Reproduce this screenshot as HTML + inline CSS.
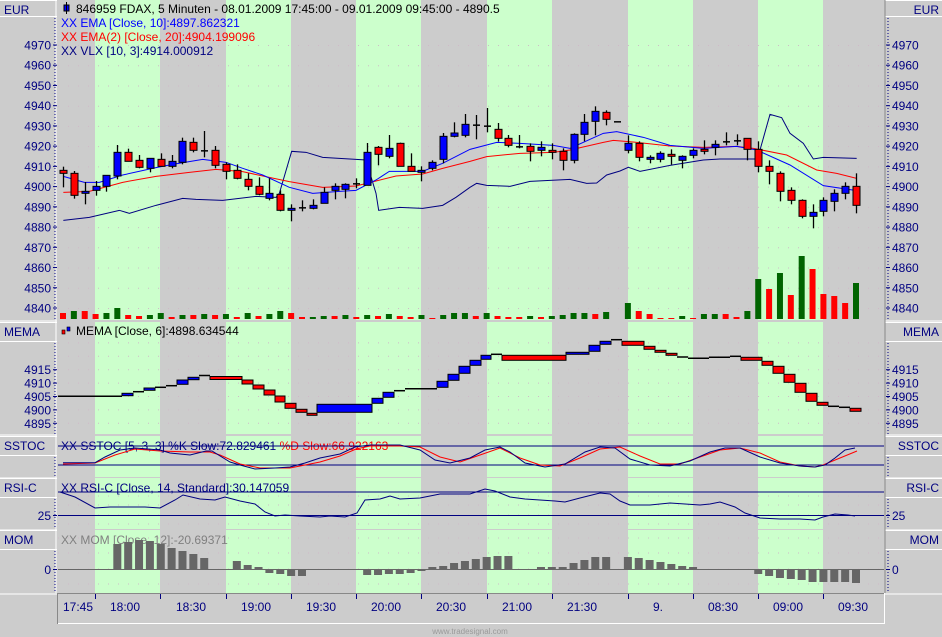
<!DOCTYPE html>
<html><head><meta charset="utf-8"><style>
html,body{margin:0;padding:0;background:#cccccc;}
svg{display:block;font-family:"Liberation Sans",sans-serif;}
</style></head><body>
<svg id="s" width="942" height="637" xmlns="http://www.w3.org/2000/svg"></svg>
<script>
const S=document.getElementById('s');let h='';
const N=74, X0=63, SP=(856-63)/73;
const bx=i=>X0+(i-1)*SP;
h+='<rect width="942" height="637" fill="#cccccc"/>';
const panes=[[0,320],[322,434],[436,477],[478,529],[530,593]];
const bands=[[95,160],[226,291],[356,421],[487,552],[628,693],[758,823]];
panes.forEach(p=>bands.forEach(b=>{h+=`<rect x="${b[0]}" y="${p[0]}" width="${b[1]-b[0]}" height="${p[1]-p[0]}" fill="#ccffcc"/>`;}));
function dots(y){h+=`<line x1="58" x2="884" y1="${y}" y2="${y}" stroke="#d0b8c8" stroke-dasharray="1,9"/>`;}
const my=v=>45+(4970-v)*2.023;
for(let v=4970;v>=4840;v-=10)dots(my(v)+0.5);
const ey=v=>369.7+(4915-v)*2.68;
[4925,4920,4915,4910,4905,4900,4895].forEach(v=>dots(ey(v)));
[446,465].forEach(dots);[496,505,515,524].forEach(dots);[538,553,569,584].forEach(dots);
h+=`<rect x="64" y="5" width="5" height="6" fill="#0000ff" stroke="#000"/><line x1="66.5" y1="2" x2="66.5" y2="14" stroke="#000"/>`;
h+=`<text x="76" y="13" font-size="12" fill="#000">846959  FDAX, 5 Minuten - 08.01.2009 17:45:00 - 09.01.2009 09:45:00 - 4890.5</text>`;
h+=`<text x="61" y="27" font-size="12" fill="#0000ff">XX EMA [Close, 10]:4897.862321</text>`;
h+=`<text x="61" y="41" font-size="12" fill="#ff0000">XX EMA(2) [Close, 20]:4904.199096</text>`;
h+=`<text x="61" y="55" font-size="12" fill="#000080">XX VLX [10, 3]:4914.000912</text>`;
const vol=[[639,'r'],[633,'g'],[633,'r'],[642,'r'],[639,'g'],[624,'g'],[645,'r'],[648,'r'],[645,'g'],[639,'g'],[651,'r'],[645,'g'],[645,'r'],[642,'g'],[645,'r'],[642,'g'],[651,'r'],[639,'g'],[648,'r'],[642,'g'],[633,'g'],[639,'r'],[651,'r'],[651,'g'],[648,'g'],[648,'r'],[645,'g'],[651,'r'],[645,'g'],[648,'r'],[642,'g'],[648,'r'],[651,'r'],[645,'g'],[654,'r'],[645,'g'],[639,'g'],[639,'g'],[648,'r'],[639,'g'],[648,'r'],[651,'r'],[651,'r'],[648,'g'],[651,'r'],[648,'g'],[645,'g'],[639,'g'],[639,'g'],[642,'r'],[636,'g'],[657,'g'],[609,'g'],[633,'r'],[642,'r'],[654,'r'],[654,'r'],[648,'g'],[654,'r'],[642,'g'],[642,'g'],[642,'r'],[651,'r'],[633,'g'],[537,'g'],[567,'r'],[519,'g'],[585,'r'],[468,'g'],[507,'r'],[582,'r'],[588,'r'],[609,'r'],[549,'g']];
vol.forEach((v,k)=>{const t=100+v[0]/3;if(t>=319)return;h+=`<rect x="${bx(k+1)-3}" y="${t}" width="6" height="${319-t}" fill="${v[1]=='g'?'#006400':'#ff0000'}"/>`;});
function pl(pts,col,w){h+=`<polyline fill="none" stroke="${col}" stroke-width="${w||1}" points="${pts.map(p=>p.join(',')).join(' ')}"/>`;}
const z4=a=>a.map(p=>[56+p[0]/3,100+p[1]/3]), z5=a=>a.map(p=>[470+p[0]/3,100+p[1]/3]);
pl(z4([[22,361],[100,352],[190,331],[220,340],[300,316],[380,295],[420,298],[500,301],[600,289],[660,292],[670,280],[707,154],[750,157],[800,172],[900,178],[930,180],[960,280],[968,331],[1030,322],[1100,325],[1160,316],[1200,292],[1242,262]]).concat(z5([[20,250],[50,256],[120,259],[180,244],[300,238],[350,250],[380,249],[410,225],[450,213],[475,202],[510,214],[600,196],[700,180],[750,177],[860,177],[870,150],[900,43],[935,53],[960,100],[1000,130],[1030,177],[1060,172],[1160,175]])),'#000080');
pl(z4([[22,277],[100,274],[200,247],[300,229],[400,217],[480,208],[560,215],[700,245],[800,262],[900,258],[960,243],[1020,228],[1100,222],[1160,205],[1242,184]]).concat(z5([[50,170],[150,160],[250,157],[300,150],[400,127],[430,121],[500,127],[600,138],[700,142],[800,139],[850,145],[950,165],[1040,210],[1100,220],[1160,235]])),'#ff0000');
pl(z4([[22,229],[85,247],[130,247],[200,225],[300,203],[350,193],[440,178],[510,187],[560,205],[620,225],[700,262],[770,280],[850,274],[900,271],[960,240],[1000,214],[1100,214],[1160,190],[1242,148]]).concat(z5([[80,127],[150,130],[250,136],[300,145],[400,100],[440,95],[520,112],[600,136],[700,145],[800,139],[860,150],[960,195],[1060,257],[1160,272]])),'#0000ff');
const c4=[[211,220,200,262,'r'],[220,286,213,296,'r'],[274,280,246,313,'b'],[259,271,243,287,'b'],[226,259,226,275,'b'],[157,228,135,238,'b'],[157,184,146,184,'r'],[181,202,165,205,'r'],[175,205,175,217,'b'],[178,199,160,199,'r'],[184,199,165,205,'b'],[124,187,113,193,'b'],[127,151,113,157,'r'],[151,151,93,172,'k'],[151,196,138,205,'r'],[193,214,187,238,'r'],[211,235,193,238,'r'],[238,259,220,271,'r'],[259,283,232,286,'r'],[280,295,235,301,'b'],[283,331,271,334,'r'],[325,331,313,364,'b'],[322,325,301,334,'b'],[316,325,298,328,'b'],[277,310,262,310,'b'],[259,271,250,298,'b'],[253,268,250,295,'b'],[250,253,235,265,'k'],[157,256,129,256,'b'],[142,163,138,196,'r'],[145,169,105,175,'b'],[130,199,128,199,'r'],[199,214,160,214,'r'],[211,217,199,244,'b'],[187,205,181,211,'b'],[109,178,99,190,'b'],[99,109,67,112,'b'],[73,106,42,112,'b']];
const c5=[[74,74,45,118,'k'],[77,79,24,97,'k'],[88,115,69,125,'r'],[115,136,105,142,'r'],[139,139,105,145,'k'],[139,154,130,184,'r'],[142,151,124,169,'b'],[151,157,130,178,'r'],[154,181,145,211,'r'],[103,181,100,190,'b'],[67,103,42,124,'b'],[34,64,19,106,'b'],[37,58,31,76,'r'],[64,64,64,64,'k'],[130,151,106,160,'b'],[130,172,124,184,'r'],[172,178,166,190,'b'],[160,178,154,187,'b'],[163,169,148,194,'r'],[169,181,166,205,'b'],[151,166,145,175,'b'],[148,154,121,163,'r'],[133,142,121,166,'b'],[124,124,97,136,'k'],[121,124,103,136,'k'],[115,148,115,181,'r'],[148,199,124,217,'r'],[199,214,181,253,'r'],[220,274,214,304,'r'],[271,301,262,313,'r'],[301,349,298,355,'r'],[337,349,313,385,'b'],[301,334,292,349,'b'],[280,304,268,334,'b'],[259,280,247,298,'b'],[259,316,220,340,'r']];
c4.concat(c5).forEach((c,k)=>{const x=Math.round(bx(k+1));const bt=100+c[0]/3,bb=100+c[1]/3,wt=100+c[2]/3,wb=100+c[3]/3;
 h+=`<line x1="${x+.5}" x2="${x+.5}" y1="${wt}" y2="${wb}" stroke="#000" stroke-width="1.3"/>`;
 if(c[4]=='k'||bb-bt<1.5){h+=`<line x1="${x-3}" x2="${x+4}" y1="${bt+.5}" y2="${bt+.5}" stroke="#000" stroke-width="1.5"/>`;}
 else h+=`<rect x="${x-3}" y="${bt}" width="7" height="${bb-bt}" fill="${c[4]=='r'?'#ff0000':'#0000ff'}" stroke="#000" stroke-width="1"/>`;});
h+=`<rect x="62" y="330" width="3" height="4" fill="#ff0000" stroke="#000" stroke-width=".6"/><rect x="67" y="327" width="3" height="4" fill="#0000ff" stroke="#000" stroke-width=".6"/>`;
h+=`<text x="76" y="335" font-size="12" fill="#000">MEMA [Close, 6]:4898.634544</text>`;
const mb=[[58,122,396.3,396.3,'k'],[122,133,393.3,395.7,'b'],[133,144,391.7,391.7,'k'],[144,155,388,390.3,'b'],[155,166,387.3,387.3,'k'],[166,177,385.7,385.7,'k'],[177,188,380,384.3,'b'],[188,199,377.3,379.7,'b'],[199,210,375.5,375.5,'k'],[210,242,376.5,379.5,'r'],[242,253,380,384,'r'],[253,264,385,389,'r'],[264,275,390,395,'r'],[275,285,396,402,'r'],[285,296,403.3,408.3,'r'],[296,307,409.3,412.3,'r'],[307,317,413.3,415.3,'r'],[317,372,404.3,412.3,'b'],[372,383,398.3,403.3,'b'],[383,394,392.3,397.3,'b'],[394,405,390.7,390.7,'k'],[405,437,388.7,388.7,'k'],[437,448,381.3,387.3,'b'],[448,459,374.3,380.3,'b'],[459,470,366.3,373.3,'b'],[470,481,360.3,365.3,'b'],[481,491,355.3,359.3,'b'],[491,502,354.3,354.3,'k'],[502,566,355.3,360.3,'r'],[566,589,352.3,354.3,'b'],[589,600,345.3,351.3,'b'],[600,611,341.3,344.3,'b'],[611,622,339.7,339.7,'k'],[622,644,341.3,345.3,'r'],[644,655,346.3,349.3,'r'],[655,666,350.3,352.3,'r'],[666,677,353.3,355.3,'r'],[677,688,357,357,'k'],[688,709,358.3,358.3,'k'],[709,730,357.3,357.3,'k'],[730,741,356.3,356.3,'k'],[741,762,357.3,360.3,'r'],[762,773,361.3,365.3,'r'],[773,784,366.3,373.3,'r'],[784,795,374.3,382.3,'r'],[795,806,383.3,392.3,'r'],[806,817,393.3,401.3,'r'],[817,828,402.3,405.3,'r'],[828,839,406.3,406.3,'k'],[839,850,407.3,407.3,'k'],[850,861,408.3,411.3,'r']];
mb.forEach(b=>{if(b[4]=='k')h+=`<line x1="${b[0]}" x2="${b[1]}" y1="${b[2]}" y2="${b[2]}" stroke="#000" stroke-width="1.5"/>`;else h+=`<rect x="${b[0]}" y="${b[2]}" width="${b[1]-b[0]}" height="${b[3]-b[2]}" fill="${b[4]=='r'?'#ff0000':'#0000ff'}" stroke="#000"/>`;});
h+=`<text x="61" y="450" font-size="12" fill="#000080">XX SSTOC [5, 3, 3] %K Slow:72.829461 <tspan fill="#ff0000">%D Slow:66.922163</tspan></text>`;
h+=`<line x1="58" x2="884" y1="446" y2="446" stroke="#000080"/><line x1="58" x2="884" y1="465" y2="465" stroke="#000080"/>`;
pl([[63,464],[95,463],[115,455],[135,449],[160,451],[190,452],[210,452],[220,455],[240,464],[260,468],[290,468],[300,466],[320,462],[340,456],[356,449],[370,446],[400,446],[420,447],[440,457],[460,462],[480,455],[500,448],[520,458],[540,465],[560,466],[580,458],[600,449],[620,447],[640,456],[660,464],[680,464],[700,457],[720,450],[740,448],[760,453],[780,462],[800,466],[815,467],[823,465],[857,451]],'#ff0000');
pl([[63,462.7],[95,462.7],[105,457],[120,450],[135,448],[160,450],[170,453],[190,455],[206,451],[212,451],[230,462],[240,465],[255,469],[275,468],[290,467],[305,463],[320,458],[340,454],[355,447],[370,445],[400,445],[420,450],[435,460],[450,463],[470,458],[485,450],[500,447],[510,452],[525,463],[545,467],[565,464],[585,452],[600,447],[615,448],[630,459],[650,465],[670,466],[690,461],[710,452],[725,448],[740,448],[760,457],[780,463],[800,466],[815,467],[825,465],[835,458],[845,450],[855,448]],'#000080');
h+=`<text x="61" y="492" font-size="12" fill="#000080">XX RSI-C [Close, 14, Standard]:30.147059</text>`;
h+=`<line x1="58" x2="884" y1="492" y2="492" stroke="#000080"/><line x1="58" x2="884" y1="515.5" y2="515.5" stroke="#000080"/>`;
pl([[60,492],[75,497],[95,508],[110,507],[145,507],[160,508],[175,500],[183,495],[200,499],[215,500],[225,497],[240,501],[255,504],[265,512],[275,516],[285,515],[300,516],[320,517],[330,516],[345,517],[357,513],[365,500],[380,499],[390,496],[400,499],[420,498],[440,494],[470,494],[485,489],[495,491],[510,497],[525,499],[540,500],[555,501],[565,502],[580,498],[600,493],[610,494],[620,501],[630,505],[650,505],[670,503],[700,505],[710,504],[720,502],[735,507],[745,513],[760,518],[780,519],[800,519],[815,520],[823,517],[835,514],[848,515],[855,516]],'#000080');
h+=`<text x="61" y="544" font-size="12" fill="#808080">XX MOM [Close, 12]:-20.69371</text>`;
const mom=[569,569,569,569,569,544,542,540,541,544,548,551,554,558,569,569,561,565,567,573,574,576,576,569,569,569,569,569,575,575,574,574,573,571,567,566,563,561,559,557,556,556,569,569,567,567,567,563,560,557,557,569,557,558,560,562,564,566,567,569,569,569,570,569,574,576,578,579,580,582,582,582,582,583];
mom.forEach((t,k)=>{if(t==569)return;const y0=Math.min(t,569),y1=Math.max(t,569);h+=`<rect x="${bx(k+1)-4}" y="${y0}" width="8" height="${y1-y0}" fill="#666666"/>`;});
h+=`<line x1="58" x2="884" y1="569.5" y2="569.5" stroke="#666666"/>`;
function side(x0,w,right){
 const lab=[['EUR',0,16],['MEMA',322,341],['SSTOC',436,455],['RSI-C',478,497],['MOM',530,549]];
 h+=`<rect x="${x0}" y="0" width="${w}" height="593" fill="#cccccc"/>`;
 lab.forEach((l,k)=>{h+=`<line x1="${x0}" x2="${x0+w}" y1="${l[1]+.5}" y2="${l[1]+.5}" stroke="#fff"/><line x1="${x0}" x2="${x0+w}" y1="${l[2]+.5}" y2="${l[2]+.5}" stroke="#fff"/>`;
  h+=`<text x="${right?x0+w-3:x0+4}" y="${l[1]+14}" font-size="12" fill="#000080" ${right?'text-anchor="end"':''}>${l[0]}</text>`;
  const end=panes[k][1];const ax=right?x0+3:x0+w-2;
  h+=`<line x1="${ax}" x2="${ax}" y1="${l[2]+2}" y2="${end}" stroke="#000080" stroke-dasharray="1,2"/>`;
  h+=`<line x1="${x0}" x2="${x0+w}" y1="${end+1}" y2="${end+1}" stroke="#fff"/>`;});
 h+=`<line x1="${right?x0:x0+w-1}" x2="${right?x0:x0+w-1}" y1="0" y2="593" stroke="${right?'#888':'#fff'}"/>`;
 const tick=(v,y)=>{const ax=right?x0+3:x0+w-2;h+=`<line x1="${ax-2}" x2="${ax+2}" y1="${y}" y2="${y}" stroke="#000080"/><text x="${right?x0+7:x0+w-6}" y="${y+4.5}" font-size="12" fill="#000080" ${right?'':'text-anchor="end"'}>${v}</text>`;};
 for(let v=4970;v>=4840;v-=10)tick(v,my(v));
 [4915,4910,4905,4900,4895].forEach(v=>tick(v,ey(v)));
 tick(25,515.5);tick(0,569.5);
}
side(0,57,false);side(885,57,true);
h+=`<rect x="58" y="593" width="826" height="31" fill="#cccccc"/><line x1="58" x2="884" y1="593.5" y2="593.5" stroke="#888"/><line x1="58" x2="884" y1="623.5" y2="623.5" stroke="#fff"/><line x1="57.5" x2="57.5" y1="593" y2="624" stroke="#888"/><line x1="884.5" x2="884.5" y1="593" y2="624" stroke="#fff"/>`;
bands.forEach(b=>{[b[0],b[1]].forEach(x=>{h+=`<line x1="${x+.5}" x2="${x+.5}" y1="594" y2="599" stroke="#000080"/>`;});});
[['17:45',78],['18:00',125],['18:30',191],['19:00',256],['19:30',321],['20:00',386],['20:30',451],['21:00',517],['21:30',582],['9.',658],['08:30',723],['09:00',788],['09:30',853]].forEach(t=>{h+=`<text x="${t[1]}" y="611" font-size="12" fill="#000080" text-anchor="middle">${t[0]}</text>`;});
h+=`<text x="470" y="634" font-size="8" fill="#9a9a9a" text-anchor="middle">www.tradesignal.com</text>`;
S.innerHTML=h;
</script>
</body></html>
